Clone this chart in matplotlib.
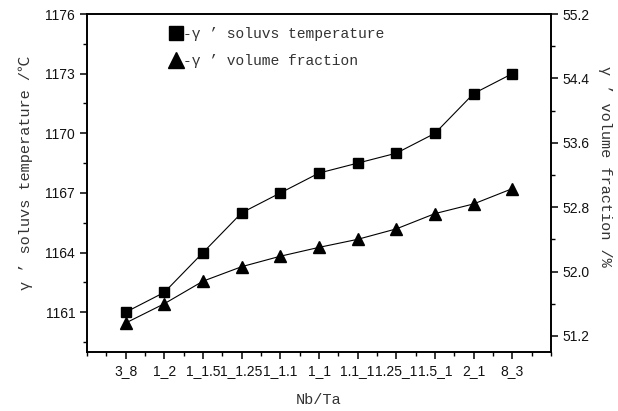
import matplotlib
matplotlib.use("Agg")
from matplotlib import pyplot as plt
from matplotlib.lines import Line2D
from matplotlib.ticker import MultipleLocator

# данные
ratios = ["3_8", "1_2", "1_1.5", "1_1.25", "1_1.1", "1_1",
          "1.1_1", "1.25_1", "1.5_1", "2_1", "8_3"]
solvus_temp = [1161, 1162, 1164, 1166, 1167, 1168, 1168.5, 1169, 1170, 1172, 1173]
vol_frac = [51.36, 51.60, 51.88, 52.06, 52.19, 52.30, 52.40, 52.53, 52.72, 52.84, 53.03]

label_font = ['Liberation Mono', 'Noto Sans CJK SC']
tick_font = 'Liberation Sans'
txt_color = '#333333'

fig = plt.figure(figsize=(6.18, 4.11), dpi=100)
ax = fig.add_axes([0.1408, 0.1436, 0.7508, 0.8223])
ax2 = ax.twinx()

x = list(range(1, len(ratios) + 1))
ax.plot(x, solvus_temp, color='black', lw=0.8, marker='s', ms=7.5,
        markeredgecolor='black', markerfacecolor='black')
ax2.plot(x, vol_frac, color='black', lw=0.8, marker='^', ms=8.5,
         markeredgecolor='black', markerfacecolor='black')

ax.set_xlim(0, 12)
ax.set_xticks(x)
ax.set_xticklabels(ratios)
ax.xaxis.set_minor_locator(MultipleLocator(0.5))

ax.set_ylim(1159, 1176)
ax.yaxis.set_major_locator(MultipleLocator(3))
ax.yaxis.set_minor_locator(MultipleLocator(1.5))
ax2.set_ylim(51.0, 55.2)
ax2.set_yticks([51.2, 52.0, 52.8, 53.6, 54.4, 55.2])
ax2.set_yticklabels(['51.2', '52.0', '52.8', '53.6', '54.4', '55.2'])
ax2.yaxis.set_minor_locator(MultipleLocator(0.4))

for a in (ax, ax2):
    for s in a.spines.values():
        s.set_linewidth(1.2)
ax.tick_params(axis='x', which='major', direction='out', length=5, width=1.1,
               labelsize=10, pad=4)
ax.tick_params(axis='x', which='minor', direction='out', length=3, width=1.0)
ax.tick_params(axis='y', which='major', direction='out', length=5, width=1.1, labelsize=10)
ax.tick_params(axis='y', which='minor', direction='out', length=3, width=1.0)
ax2.tick_params(axis='y', which='major', direction='out', length=5, width=1.1, labelsize=10)
ax2.tick_params(axis='y', which='minor', direction='out', length=3, width=1.0)
# верхние тики внутрь, через второй ось
ax2.tick_params(axis='x', which='both', top=True, bottom=False, labeltop=False,
                labelbottom=False, direction='in')
ax2.tick_params(axis='x', which='major', length=4, width=1.0)
ax2.tick_params(axis='x', which='minor', length=2.5, width=1.0)

for lab in ax.get_xticklabels() + ax.get_yticklabels() + ax2.get_yticklabels():
    lab.set_fontfamily(tick_font)
    lab.set_color('#111111')

ax.set_xlabel('Nb/Ta', family=label_font, fontsize=11, color=txt_color)
ax.xaxis.set_label_coords(0.5, -0.12)
ax.set_ylabel('γ ’ soluvs temperature /℃', family=label_font, fontsize=11,
              color=txt_color, va='center')
ax.yaxis.set_label_coords(-0.133, 0.53)
ax2.set_ylabel('γ ’ volume fraction /%', family=label_font, fontsize=11,
               color=txt_color, rotation=270, va='center')
ax2.yaxis.set_label_coords(1.116, 0.55)

handles = [Line2D([], [], ls='none', marker='s', color='black', ms=10),
           Line2D([], [], ls='none', marker='^', color='black', ms=11)]
leg = ax.legend(handles, ['-γ ’ soluvs temperature', '-γ ’ volume fraction'],
                loc='upper left', bbox_to_anchor=(0.15, 1.0), frameon=False,
                handlelength=0.8, handletextpad=0.1, labelspacing=0.9,
                prop={'family': label_font, 'size': 10.5})
for t in leg.get_texts():
    t.set_color(txt_color)

fig.savefig('out.png', dpi=100)
